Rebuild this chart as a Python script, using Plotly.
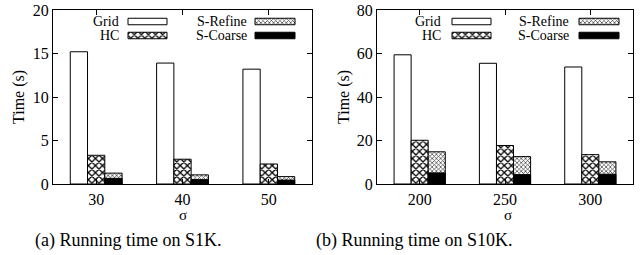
import plotly.graph_objects as go

# ---- data ----
cats_a = ["30", "40", "50"]
cats_b = ["200", "250", "300"]
grid_a = [15.2, 13.9, 13.2]
hc_a = [3.3, 2.85, 2.3]
refine_a = [1.25, 1.05, 0.85]
coarse_a = [0.65, 0.5, 0.45]
grid_b = [59.4, 55.5, 53.8]
hc_b = [20.1, 17.7, 13.5]
refine_b = [14.8, 12.6, 10.2]
coarse_b = [5.1, 4.3, 4.5]
series_names = ["Grid", "HC", "S-Refine", "S-Coarse"]

W, H = 642, 255
FONT = "Liberation Serif"
BW = 0.2

def px(x):
    return x / W

def py(y):
    return 1 - y / H

styles = {
    "Grid": dict(marker=dict(color="white", line=dict(color="black", width=1))),
    "HC": dict(marker=dict(color="white", line=dict(color="black", width=1),
                           pattern=dict(shape="x", size=5, solidity=0.45, fgcolor="black", bgcolor="white"))),
    "S-Refine": dict(marker=dict(color="white", line=dict(color="black", width=1),
                                 pattern=dict(shape="x", size=3, solidity=0.4, fgcolor="#333", bgcolor="white"))),
    "S-Coarse": dict(marker=dict(color="black", line=dict(color="black", width=1))),
}
offsets = {"Grid": -0.3, "HC": -0.1, "S-Refine": 0.1, "S-Coarse": 0.1}

fig = go.Figure()

panels = [
    ("x", "y", cats_a, [grid_a, hc_a, refine_a, coarse_a]),
    ("x2", "y2", cats_b, [grid_b, hc_b, refine_b, coarse_b]),
]
for xa, ya, cats, vals in panels:
    for name, v in zip(series_names, vals):
        fig.add_trace(go.Bar(x=list(range(len(cats))), y=v, width=BW, offset=offsets[name],
                             xaxis=xa, yaxis=ya, showlegend=False, name=name, **styles[name]))

# legend samples on hidden overlay axes
legend_axes = [("x3", "y3", 0), ("x4", "y4", 1)]
sample_pos = {"Grid": (75, 39, 0), "HC": (75, 39, 1), "S-Refine": (202, 40, 0), "S-Coarse": (202, 40, 1)}
row_y = [11.5, 25.5]
text_right = [68, 196]
annotations = []
for xa, ya, k in legend_axes:
    for name in series_names:
        x0, ln, r = sample_pos[name]
        fig.add_trace(go.Bar(y=[row_y[r]], x=[ln], base=[x0], orientation="h", width=6.5,
                             xaxis=xa, yaxis=ya, showlegend=False, hoverinfo="skip", **styles[name]))
        col = 0 if name in ("Grid", "HC") else 1
        annotations.append(dict(xref=xa, yref=ya, x=text_right[col] - 2 * k, y=row_y[r], text=name,
                                showarrow=False, xanchor="right", yanchor="middle",
                                font=dict(family=FONT, size=14, color="black")))

dom_a = [px(53), px(312)]
dom_b = [px(377), px(633)]
dom_y = [py(184), py(10)]

axis_common = dict(showline=True, linecolor="black", linewidth=1, mirror="ticks", ticks="inside",
                   ticklen=5, tickcolor="black", showgrid=False, zeroline=False, automargin=False,
                   tickfont=dict(family=FONT, size=16, color="black"))
hidden = dict(visible=False, fixedrange=True, automargin=False)

fig.update_layout(
    template="none",
    width=W, height=H, margin=dict(l=0, r=0, t=0, b=0, pad=0), autosize=False,
    paper_bgcolor="white", plot_bgcolor="rgba(0,0,0,0)", barmode="overlay",
    xaxis=dict(domain=dom_a, range=[-0.5, 2.5], tickvals=[0, 1, 2], ticktext=cats_a, anchor="y",
               ticklabelstandoff=1, **axis_common),
    yaxis=dict(domain=dom_y, range=[0, 20], dtick=5, anchor="x", **axis_common),
    xaxis2=dict(domain=dom_b, range=[-0.5, 2.5], tickvals=[0, 1, 2], ticktext=cats_b, anchor="y2",
                ticklabelstandoff=1, **axis_common),
    yaxis2=dict(domain=dom_y, range=[0, 80], dtick=20, anchor="x2", **axis_common),
    xaxis3=dict(domain=dom_a, range=[0, 259], anchor="y3", **hidden),
    yaxis3=dict(domain=dom_y, range=[174, 0], anchor="x3", **hidden),
    xaxis4=dict(domain=dom_b, range=[0, 256], anchor="y4", **hidden),
    yaxis4=dict(domain=dom_y, range=[174, 0], anchor="x4", **hidden),
)

txt = dict(family=FONT, color="black")
c = dict(xref="paper", yref="paper", showarrow=False, xanchor="center", yanchor="middle")
annotations += [
    dict(x=px(19), y=py(97), text="Time (s)", textangle=-90, font=dict(size=16, **txt), **c),
    dict(x=px(344), y=py(97), text="Time (s)", textangle=-90, font=dict(size=16, **txt), **c),
    dict(x=px(183), y=py(215), text="σ", font=dict(size=15, **txt), **c),
    dict(x=px(508), y=py(215), text="σ", font=dict(size=15, **txt), **c),
    dict(x=px(128), y=py(240), text="(a) Running time on S1K.", font=dict(size=18, **txt), **c),
    dict(x=px(414), y=py(240), text="(b) Running time on S10K.", font=dict(size=18, **txt), **c),
]
fig.update_layout(annotations=annotations)

fig.write_html("out.html", config={"displayModeBar": False},
               post_script="document.body.style.margin='0';")
